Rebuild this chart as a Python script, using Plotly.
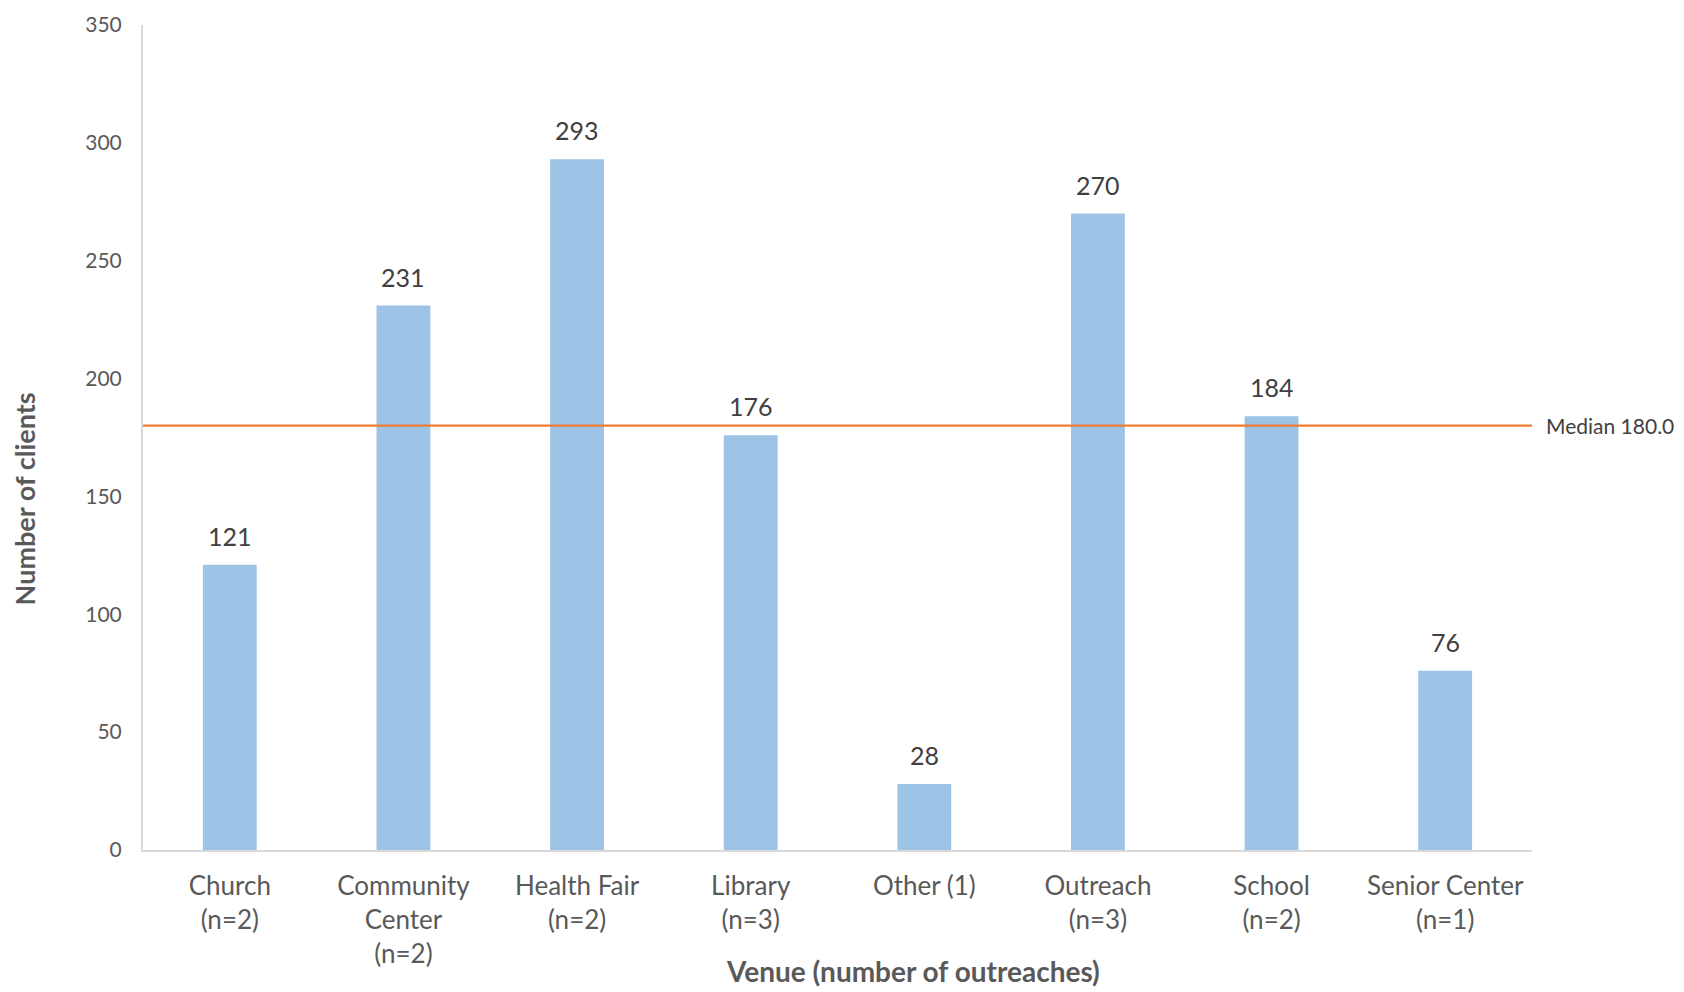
import plotly.graph_objects as go

categories = ["Church<br>(n=2)", "Community<br>Center<br>(n=2)", "Health Fair<br>(n=2)",
              "Library<br>(n=3)", "Other (1)", "Outreach<br>(n=3)", "School<br>(n=2)",
              "Senior Center<br>(n=1)"]
clients = [121, 231, 293, 176, 28, 270, 184, 76]
median_value = 180.0
y_ticks = [0, 50, 100, 150, 200, 250, 300, 350]

FONT = "Lato"
PAGE_OFFSET = 8  # default body margin of the html page

fig = go.Figure()
fig.add_trace(go.Bar(
    x=categories, y=clients,
    marker=dict(color="#9dc3e6", line=dict(width=0)),
    hoverinfo="x+y",
))

for cat, val in zip(categories, clients):
    fig.add_annotation(x=cat, y=val, xref="x", yref="y", text=str(val),
                       showarrow=False, yanchor="bottom", yshift=12,
                       font=dict(family=FONT, size=25, color="#404040"))

fig.add_shape(type="line", xref="paper", yref="y", x0=0, x1=1,
              y0=median_value, y1=median_value,
              line=dict(color="#ed7d31", width=2.2))
fig.add_annotation(xref="paper", yref="y", x=1.0, xshift=12, y=median_value,
                   text=f"Median {median_value:.1f}", showarrow=False,
                   xanchor="left", yanchor="middle",
                   font=dict(family=FONT, size=21, color="#404040"))

fig.add_annotation(xref="paper", yref="paper", x=0.554, y=-0.147,
                   text="<b>Venue (number of outreaches)</b>", showarrow=False,
                   xanchor="center", yanchor="middle",
                   font=dict(family=FONT, size=28, color="#595959"))

fig.add_annotation(xref="paper", yref="paper", x=0, xshift=-119, y=0.425,
                   text="<b>Number of clients</b>", showarrow=False, textangle=-90,
                   xanchor="center", yanchor="middle",
                   font=dict(family=FONT, size=27, color="#595959"))

fig.update_layout(
    width=1684 - PAGE_OFFSET, height=992 - PAGE_OFFSET,
    margin=dict(l=143 - PAGE_OFFSET, r=152, t=25 - PAGE_OFFSET, b=142, autoexpand=False),
    paper_bgcolor="white", plot_bgcolor="white",
    bargap=0.69, showlegend=False,
    font=dict(family=FONT, color="#595959"),
    xaxis=dict(showline=True, linecolor="#d9d9d9", linewidth=2,
               showgrid=False, ticks="", ticklabelstandoff=12,
               tickfont=dict(family=FONT, size=26, color="#595959")),
    yaxis=dict(range=[0, 350], tickvals=y_ticks, showline=True,
               linecolor="#d9d9d9", linewidth=2, showgrid=False,
               zeroline=False, ticks="", ticklabelstandoff=15,
               tickfont=dict(family=FONT, size=21, color="#595959")),
)

fig.write_html("out.html")
